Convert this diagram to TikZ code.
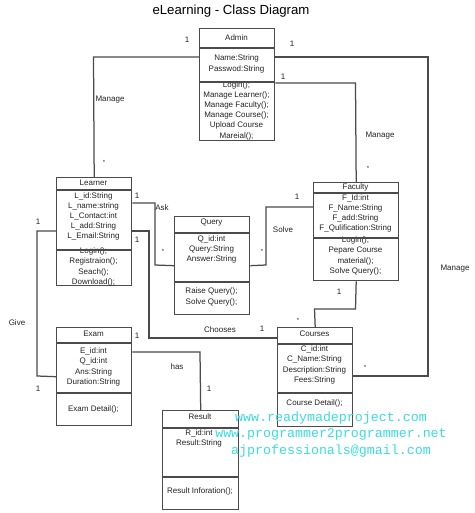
\documentclass[tikz,border=0pt]{standalone}
\usepackage{fontspec}
\setmainfont{Liberation Sans}
\newfontfamily\wmfont{Liberation Mono}
\definecolor{linec}{RGB}{75,75,75}
\definecolor{textc}{RGB}{35,35,35}
\definecolor{wmc}{RGB}{60,220,225}
\begin{document}
\begin{tikzpicture}[x=1pt,y=-1pt,
  cls/.style={draw=linec, line width=1.4pt, inner sep=0pt, anchor=north west},
  sepl/.style={draw=linec, line width=1.4pt},
  txt/.style={font=\fontsize{8}{10.2}\selectfont, align=center, inner sep=0pt, text=textc},
  conn/.style={draw=linec, line width=1.25pt},
  lbl/.style={font=\fontsize{8}{10}\selectfont, inner sep=0pt, text=textc},
  star/.style={font=\fontsize{6}{6}\selectfont, inner sep=0pt, text=textc},
  ttl/.style={font=\fontsize{13.2}{15}\selectfont, inner sep=0pt, text=black},
  wm/.style={font=\wmfont\fontsize{13.3}{16}\selectfont, text=wmc, inner sep=0pt}]
\useasboundingbox[fill=white] (0,0) rectangle (474,513);

\node[ttl] (title) at (231,11.5) {eLearning - Class Diagram};

% ---------- class boxes ----------
\node[cls, minimum width=75pt, minimum height=112pt] (admin) at (199,28) {};
\node[cls, minimum width=75pt, minimum height=108pt] (learner) at (56,177) {};
\node[cls, minimum width=75pt, minimum height=98pt] (query) at (174,216) {};
\node[cls, minimum width=85pt, minimum height=98pt] (faculty) at (313,182) {};
\node[cls, minimum width=75pt, minimum height=98pt] (exam) at (56,327) {};
\node[cls, minimum width=75pt, minimum height=99pt] (courses) at (277,327) {};
\node[cls, minimum width=76pt, minimum height=99pt] (result) at (162,410) {};

% ---------- texts ----------
\node[txt] (adminT) at (236.5,38) {Admin};
\node[txt] (adminA) at (236.5,64) {Name:String\\Passwod:String};
\node[txt] (adminM) at (236.5,110.5) {Login();\\Manage Learner();\\Manage Faculty();\\Manage Course();\\Upload Course\\Mareial();};

\node[txt] (learnerT) at (93.5,183) {Learner};
\node[txt] (learnerA) at (93.5,216.5) {L\_id:String\\L\_name:string\\L\_Contact:int\\L\_add:String\\L\_Email:String};
\node[txt] (learnerM) at (93.5,267) {Login();\\Registraion();\\Seach();\\Download();};

\node[txt] (queryT) at (211.5,223) {Query};
\node[txt] (queryA) at (211.5,249.5) {Q\_id:int\\Query:String\\Answer:String};
\node[txt] (queryM) at (211.5,297) {Raise Query();\\Solve Query();};

\node[txt] (facultyT) at (355.5,187) {Faculty};
\node[txt] (facultyA) at (355.5,213.5) {F\_Id:int\\F\_Name:String\\F\_add:String\\F\_Qulification:String};
\node[txt] (facultyM) at (355.5,256) {Login();\\Pepare Course\\material();\\Solve Query();};

\node[txt] (examT) at (93.5,334) {Exam};
\node[txt] (examA) at (93.5,367) {E\_id:int\\Q\_id:int\\Ans:String\\Duration:String};
\node[txt] (examM) at (93.5,409) {Exam Detail();};

\node[txt] (coursesT) at (314.5,334) {Courses};
\node[txt] (coursesA) at (314.5,365) {C\_id:int\\C\_Name:String\\Description:String\\Fees:String};
\node[txt] (coursesM) at (314.5,403) {Course Detail();};

\node[txt] (resultT) at (200,417) {Result};
\node[txt] (resultA) at (199,438.5) {R\_id:int\\Result:String};
\node[txt] (resultM) at (200,491) {Result Inforation();};

% ---------- separators ----------
\draw[sepl] (admin.west |- 0,48) -- (admin.east |- 0,48);
\draw[sepl] (admin.west |- 0,82) -- (admin.east |- 0,82);
\draw[sepl] (learner.west |- 0,190) -- (learner.east |- 0,190);
\draw[sepl] (learner.west |- 0,250) -- (learner.east |- 0,250);
\draw[sepl] (query.west |- 0,233) -- (query.east |- 0,233);
\draw[sepl] (query.west |- 0,282) -- (query.east |- 0,282);
\draw[sepl] (faculty.west |- 0,193) -- (faculty.east |- 0,193);
\draw[sepl] (faculty.west |- 0,238) -- (faculty.east |- 0,238);
\draw[sepl] (exam.west |- 0,343) -- (exam.east |- 0,343);
\draw[sepl] (exam.west |- 0,393) -- (exam.east |- 0,393);
\draw[sepl] (courses.west |- 0,344) -- (courses.east |- 0,344);
\draw[sepl] (courses.west |- 0,393) -- (courses.east |- 0,393);
\draw[sepl] (result.west |- 0,428) -- (result.east |- 0,428);
\draw[sepl] (result.west |- 0,477) -- (result.east |- 0,477);

% ---------- connectors ----------
\coordinate (bAL) at (93.5,57);
\draw[conn] (admin.west |- bAL) -- (bAL) -- (learner.north);

\coordinate (bAC1) at (428,57);
\coordinate (bAC2) at (428,376);
\draw[conn] (admin.east |- bAC1) -- (bAC1) -- (bAC2) -- (courses.east |- bAC2);

\coordinate (bAF) at (355.5,83);
\draw[conn] (admin.east |- bAF) -- (bAF) -- (faculty.north);

\coordinate (bFC1) at (355.5,309);
\coordinate (bFC2) at (314.5,309);
\draw[conn] (faculty.south) -- (bFC1) -- (bFC2) -- (courses.north);

\coordinate (bLQ1) at (155,203);
\coordinate (bLQ2) at (155,265);
\draw[conn] (learner.east |- bLQ1) -- (bLQ1) -- (bLQ2) -- (query.west);

\coordinate (bQF1) at (266,265);
\coordinate (bQF2) at (266,207);
\draw[conn] (query.east) -- (bQF1) -- (bQF2) -- (faculty.west |- bQF2);

\coordinate (bLC1) at (149,231);
\coordinate (bLC2) at (149,338);
\draw[conn] (learner.east |- bLC1) -- (bLC1) -- (bLC2) -- (courses.west |- bLC2);

\coordinate (bLE1) at (37,231);
\coordinate (bLE2) at (37,376);
\draw[conn] (learner.west |- bLE1) -- (bLE1) -- (bLE2) -- (exam.west);

\coordinate (bER) at (200,352);
\draw[conn] (exam.east |- bER) -- (bER) -- (result.north);

% ---------- labels ----------
\node[lbl] (l1) at (187,40) {1};
\node[lbl] (l2) at (110,100) {Manage};
\node[star] (l3) at (104,162) {*};
\node[lbl] (l4) at (292,44) {1};
\node[lbl] (l5) at (283,77) {1};
\node[lbl] (l6) at (380,136) {Manage};
\node[star] (l7) at (368,168) {*};
\node[lbl] (l8) at (455,269) {Manage};
\node[lbl] (l9) at (137,196) {1};
\node[lbl] (l10) at (162,208) {Ask};
\node[star] (l11) at (163,251) {*};
\node[lbl] (l12) at (137,240) {1};
\node[lbl] (l13) at (38,222) {1};
\node[lbl] (l14) at (283,230) {Solve};
\node[star] (l15) at (262,251) {*};
\node[lbl] (l16) at (297,197) {1};
\node[lbl] (l17) at (339,292) {1};
\node[lbl] (l18) at (17,323) {Give};
\node[lbl] (l19) at (220,330) {Chooses};
\node[lbl] (l20) at (262,329) {1};
\node[star] (l21) at (298,320) {*};
\node[star] (l22) at (365,367) {*};
\node[lbl] (l23) at (137,336) {1};
\node[lbl] (l24) at (177,367) {has};
\node[lbl] (l25) at (209,389) {1};
\node[lbl] (l26) at (38,389) {1};

% ---------- watermark ----------
\node[wm] (w1) at (331,418) {www.readymadeproject.com};
\node[wm] (w2) at (331,434) {www.programmer2programmer.net};
\node[wm] (w3) at (331,451) {ajprofessionals@gmail.com};
\end{tikzpicture}
\end{document}
